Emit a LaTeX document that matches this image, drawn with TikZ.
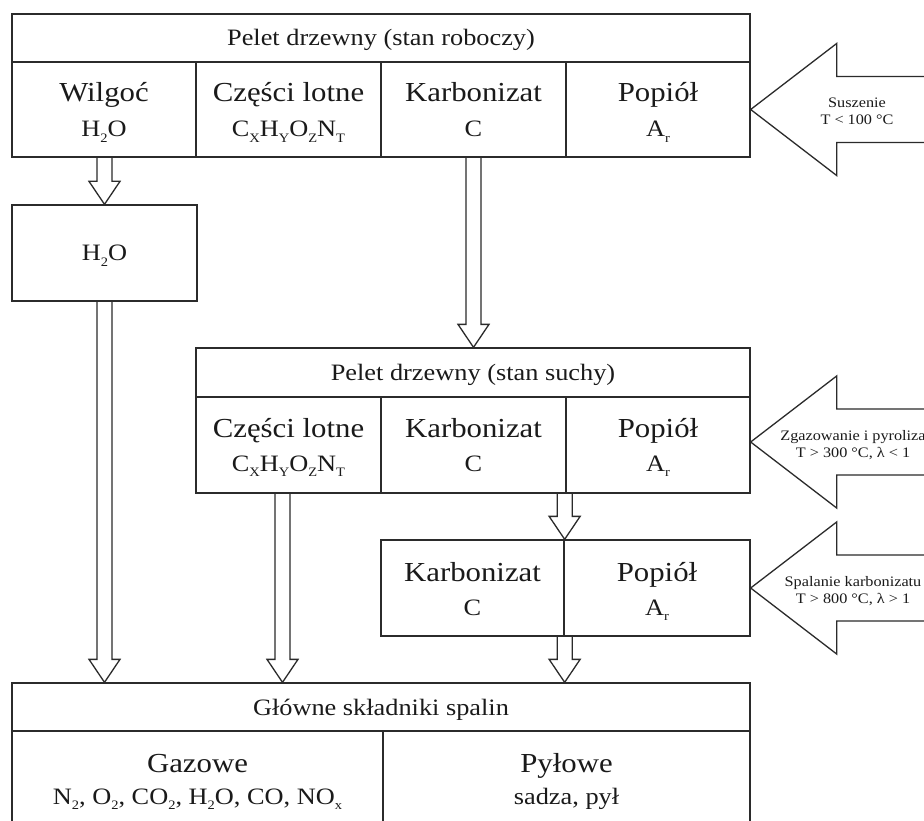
\documentclass[tikz,border=0pt]{standalone}
\usepackage{fontspec}
\setmainfont{Liberation Serif}[FakeStretch=1.12]
\usetikzlibrary{fit,calc}

\definecolor{linec}{HTML}{2B2B2B}
\definecolor{textc}{HTML}{1A1A1A}

% small lowered index for chemical formulas
\newcommand\chemsub[1]{\raisebox{-0.22em}{\scalebox{0.55}{#1}}}

% downward block arrow from a start point to a tip
\newcommand\downblock[2]{%
  \draw[blockline] let \p1=#1, \p2=#2 in
    (\x2-7.5pt,\y1) -- (\x2-7.5pt,\y2+23pt) -- (\x2-15.5pt,\y2+23pt) -- (\x2,\y2)
    -- (\x2+15.5pt,\y2+23pt) -- (\x2+7.5pt,\y2+23pt) -- (\x2+7.5pt,\y1);}

% leftward block arrow: tail point (off the right edge) and tip
\newcommand\leftblock[2]{%
  \draw[blockline] let \p1=#1, \p2=#2 in
    (\x1,\y2+33pt) -- (\x2+86pt,\y2+33pt) -- (\x2+86pt,\y2+66pt) -- (\x2,\y2)
    -- (\x2+86pt,\y2-66pt) -- (\x2+86pt,\y2-33pt) -- (\x1,\y2-33pt);}

\tikzset{
  cell/.style={draw=linec, line width=1.3pt, inner sep=0pt},
  blockline/.style={draw=linec, line width=1.3pt, line join=miter},
  headt/.style={font=\fontsize{23.5}{26}\selectfont, text=textc, anchor=base, inner sep=0pt},
  bigt/.style={font=\fontsize{27.5}{30}\selectfont, text=textc, anchor=base, inner sep=0pt},
  subt/.style={font=\fontsize{23.5}{26}\selectfont, text=textc, anchor=base, inner sep=0pt},
  sidet/.style={font=\fontsize{14.5}{17}\selectfont, text=textc, align=center, inner sep=0pt},
}

\begin{document}
\begin{tikzpicture}[x=1pt,y=-1pt]
\useasboundingbox[fill=white] (0,0) rectangle (924,821);

% ---- wood pellet, as received ----
\node[cell, fit={(12,14) (750,62)}] (hdr1) {};
\node[cell, fit={(12,62) (196,157)}] (wil1) {};
\node[cell, fit={(196,62) (381,157)}] (lot1) {};
\node[cell, fit={(381,62) (566,157)}] (kar1) {};
\node[cell, fit={(566,62) (750,157)}] (pop1) {};
\node[headt] (hdr1-t) at (381,46) {Pelet drzewny (stan roboczy)};
\node[bigt] (wil1-t) at (104,102) {Wilgoć};
\node[subt] (wil1-s) at (104,137) {H\chemsub{2}O};
\node[bigt] (lot1-t) at (288.5,102) {Części lotne};
\node[subt] (lot1-s) at (288.5,137) {C\chemsub{X}H\chemsub{Y}O\chemsub{Z}N\chemsub{T}};
\node[bigt] (kar1-t) at (473.5,102) {Karbonizat};
\node[subt] (kar1-s) at (473.5,137) {C};
\node[bigt] (pop1-t) at (658,102) {Popiół};
\node[subt] (pop1-s) at (658,137) {A\chemsub{r}};

% ---- moisture ----
\node[cell, fit={(12,205) (197,301)}] (h2o) {};
\node[subt] (h2o-t) at (104.5,261) {H\chemsub{2}O};

% ---- wood pellet, dry ----
\node[cell, fit={(196,348) (750,397)}] (hdr2) {};
\node[cell, fit={(196,397) (381,493)}] (lot2) {};
\node[cell, fit={(381,397) (566,493)}] (kar2) {};
\node[cell, fit={(566,397) (750,493)}] (pop2) {};
\node[headt] (hdr2-t) at (473,380) {Pelet drzewny (stan suchy)};
\node[bigt] (lot2-t) at (288.5,437) {Części lotne};
\node[subt] (lot2-s) at (288.5,471) {C\chemsub{X}H\chemsub{Y}O\chemsub{Z}N\chemsub{T}};
\node[bigt] (kar2-t) at (473.5,437) {Karbonizat};
\node[subt] (kar2-s) at (473.5,471) {C};
\node[bigt] (pop2-t) at (658,437) {Popiół};
\node[subt] (pop2-s) at (658,471) {A\chemsub{r}};

% ---- char and ash ----
\node[cell, fit={(381,540) (564,636)}] (kar3) {};
\node[cell, fit={(564,540) (750,636)}] (pop3) {};
\node[bigt] (kar3-t) at (472.5,581) {Karbonizat};
\node[subt] (kar3-s) at (472.5,615) {C};
\node[bigt] (pop3-t) at (657,581) {Popiół};
\node[subt] (pop3-s) at (657,615) {A\chemsub{r}};

% ---- flue gas components ----
\node[cell, fit={(12,683) (750,731)}] (hdr3) {};
\node[cell, fit={(12,731) (383,860)}] (gaz) {};
\node[cell, fit={(383,731) (750,860)}] (pyl) {};
\node[headt] (hdr3-t) at (381,715) {Główne składniki spalin};
\node[bigt] (gaz-t) at (197.5,772) {Gazowe};
\node[subt] (gaz-s) at (197.5,804) {N\chemsub{2}, O\chemsub{2}, CO\chemsub{2}, H\chemsub{2}O, CO, NO\chemsub{x}};
\node[bigt] (pyl-t) at (566.5,772) {Pyłowe};
\node[subt] (pyl-s) at (566.5,804) {sadza, pył};

% ---- material flow ----
\downblock{(wil1.south)}{(h2o.north)}
\downblock{(h2o.south)}{(h2o.south |- hdr3.north)}
\downblock{(kar1.south)}{(kar1.south |- hdr2.north)}
\coordinate (lot2-out) at ($(lot2.south)+(-6,0)$);
\downblock{(lot2-out)}{(lot2-out |- hdr3.north)}
\downblock{(kar2.south east)}{(kar3.north east)}
\downblock{(kar3.south east)}{(kar3.south east |- hdr3.north)}

% ---- process stages ----
\coordinate (s1) at ($(pop1.east)+(200,0)$);
\leftblock{(s1)}{(pop1.east)}
\node[sidet] (s1-t) at (857,111) {Suszenie\\T < 100 °C};

\coordinate (s2-tip) at ($(pop2.east)+(0,-3)$);
\coordinate (s2) at ($(s2-tip)+(200,0)$);
\leftblock{(s2)}{(s2-tip)}
\node[sidet] (s2-t) at (853,445) {Zgazowanie i pyroliza\\T > 300 °C, λ < 1};

\coordinate (s3) at ($(pop3.east)+(200,0)$);
\leftblock{(s3)}{(pop3.east)}
\node[sidet] (s3-t) at (853,591) {Spalanie karbonizatu\\T > 800 °C, λ > 1};
\end{tikzpicture}
\end{document}
